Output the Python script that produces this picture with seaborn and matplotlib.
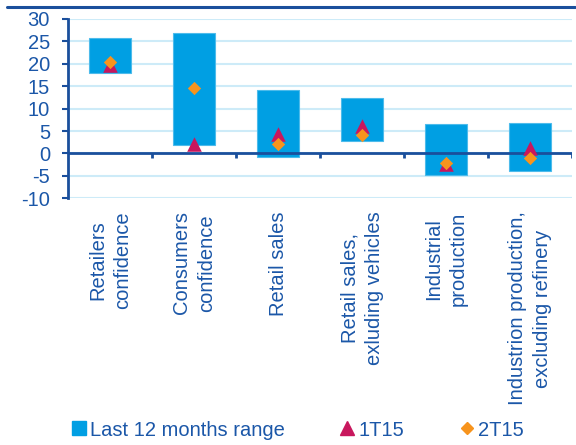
import numpy as np
import seaborn as sns
import matplotlib.pyplot as plt
from matplotlib.lines import Line2D

categories = ["Retailers\nconfidence", "Consumers\nconfidence", "Retail sales",
              "Retail sales,\nexluding vehicles", "Industrial\nproduction",
              "Industrion production,\nexcluding refinery"]
range_low = [18.0, 2.0, -0.8, 2.8, -4.7, -3.9]
range_high = [25.8, 26.8, 14.2, 12.4, 6.6, 6.9]
q1_2015 = [19.7, 2.1, 4.4, 6.2, -2.4, 1.2]
q2_2015 = [20.4, 14.7, 2.2, 4.2, -2.1, -1.1]
yticks = [-10, -5, 0, 5, 10, 15, 20, 25, 30]

bar_color = "#009FE3"
tri_color = "#C8175D"
dia_color = "#F7941D"
text_color = "#1B57A8"
axis_color = "#1A4F9C"
grid_color = "#CDEBF8"

sns.set_style("white")
plt.rcParams['font.family'] = ['Liberation Sans', 'DejaVu Sans']
plt.rcParams['axes.unicode_minus'] = False
fs = 14.5

fig = plt.figure(figsize=(5.76, 4.45), dpi=100)
ax = fig.add_axes([68 / 576, 1 - 198.3 / 445, 504 / 576, (198.3 - 19) / 445])

heights = np.array(range_high) - np.array(range_low)
sns.barplot(x=categories, y=heights, bottom=range_low, color=bar_color,
            saturation=1, width=0.5, edgecolor="#4DBBEB", linewidth=0.8,
            ax=ax, zorder=2)

ax.axhline(0, color=axis_color, lw=2, zorder=3)
# small ticks on the zero line at the category boundaries
for b in np.arange(len(categories)) + 0.5:
    ax.plot([b, b], [0, -1.1], color=axis_color, lw=2, zorder=3,
            solid_capstyle="butt")

pos = np.arange(len(categories))
sns.scatterplot(x=pos, y=q1_2015, marker="^", s=110, color=tri_color,
                linewidth=0, ax=ax, zorder=4)
sns.scatterplot(x=pos, y=q2_2015, marker="D", s=46, color=dia_color,
                linewidth=0, ax=ax, zorder=5)

ax.set_xlim(-0.5, len(categories) - 0.5)
ax.set_ylim(-10, 30)
ax.set_yticks(yticks)
ax.yaxis.grid(True, color=grid_color, lw=1.5, zorder=0)
ax.set_axisbelow(True)

for s in ["top", "right", "bottom"]:
    ax.spines[s].set_visible(False)
ax.spines["left"].set_color(axis_color)
ax.spines["left"].set_linewidth(2)

ax.tick_params(axis="y", left=True, length=4.5, width=1.5, color=axis_color,
               pad=8.5, labelsize=fs, labelcolor=text_color)
ax.tick_params(axis="x", bottom=False, length=0, pad=9.5, labelsize=fs,
               labelcolor=text_color, labelrotation=90)
for lab in ax.get_xticklabels():
    lab.set_linespacing(1.4)
ax.set_xlabel("")
ax.set_ylabel("")

# top border line
fig.add_artist(Line2D([7 / 576, 575 / 576], [1 - 6.5 / 445, 1 - 6.5 / 445],
                      color=axis_color, lw=2.2))

handles = [
    Line2D([], [], marker="s", ls="", color=bar_color, markersize=9.5),
    Line2D([], [], marker="^", ls="", color=tri_color, markersize=10),
    Line2D([], [], marker="D", ls="", color=dia_color, markersize=5.8),
]
labels = ["Last 12 months range", "1T15", "2T15"]
fig.legend(handles, labels, loc="center left",
           bbox_to_anchor=(72 / 576, 1 - 430 / 445), ncol=3, frameon=False,
           fontsize=fs, labelcolor=text_color, handlelength=0.7,
           handletextpad=0.2, columnspacing=2.75, borderpad=0,
           borderaxespad=0)

fig.savefig("out.png", dpi=100)
